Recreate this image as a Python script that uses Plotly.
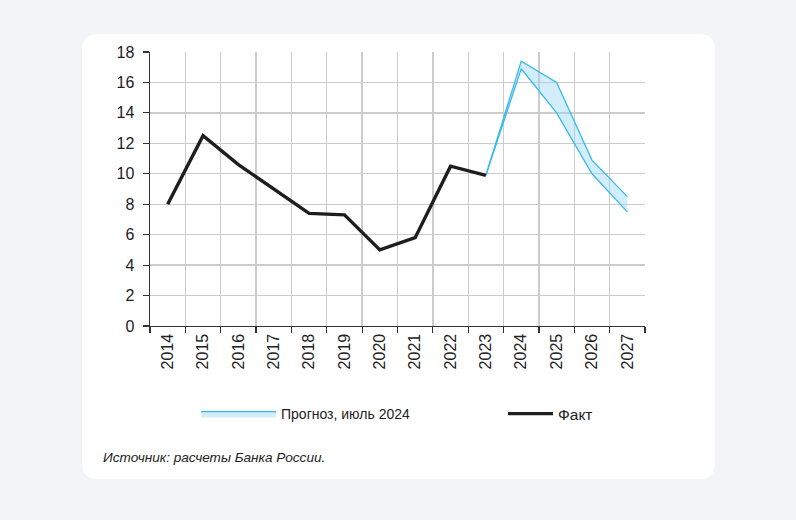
import plotly.graph_objects as go

years = ["2014", "2015", "2016", "2017", "2018", "2019", "2020",
         "2021", "2022", "2023", "2024", "2025", "2026", "2027"]
fact_years = years[:10]
fact_values = [8.0, 12.5, 10.6, 9.0, 7.4, 7.3, 5.0, 5.8, 10.5, 9.9]
fc_years = ["2023", "2024", "2025", "2026", "2027"]
fc_lower = [9.9, 16.9, 14.0, 10.0, 7.5]
fc_upper = [9.9, 17.4, 16.0, 10.9, 8.5]
y_ticks = [0, 2, 4, 6, 8, 10, 12, 14, 16, 18]

W, H = 796, 520
L, R, T, B = 150, 151, 52, 194
pw, ph = W - L - R, H - T - B
BG = "#f3f4f7"


def px(x):
    return (x - L) / pw


def py(y):
    return (H - B - y) / ph


FONT = "Liberation Sans, Arial, sans-serif"
CYAN = "#38bbea"
FILL = "rgba(150,212,242,0.42)"

fig = go.Figure()
fig.add_trace(go.Scatter(x=fc_years, y=fc_lower, mode="lines",
                         line=dict(color=CYAN, width=1.3),
                         showlegend=False, hoverinfo="skip"))
fig.add_trace(go.Scatter(x=fc_years, y=fc_upper, mode="lines", fill="tonexty",
                         fillcolor=FILL, line=dict(color=CYAN, width=1.3),
                         name="Прогноз, июль 2024", legend="legend"))
fig.add_trace(go.Scatter(x=fact_years, y=fact_values, mode="lines",
                         line=dict(color="#1e1e1e", width=3.4),
                         name="Факт", legend="legend2"))

# white card
x0, x1, y0, y1, r = 82, 715, 34, 479, 16
rx, ry = r / pw, r / ph
path = (f"M {px(x0)+rx},{py(y0)} L {px(x1)-rx},{py(y0)} "
        f"Q {px(x1)},{py(y0)} {px(x1)},{py(y0)-ry} "
        f"L {px(x1)},{py(y1)+ry} Q {px(x1)},{py(y1)} {px(x1)-rx},{py(y1)} "
        f"L {px(x0)+rx},{py(y1)} Q {px(x0)},{py(y1)} {px(x0)},{py(y1)+ry} "
        f"L {px(x0)},{py(y0)-ry} Q {px(x0)},{py(y0)} {px(x0)+rx},{py(y0)} Z")
fig.add_shape(type="path", path=path, xref="paper", yref="paper",
              fillcolor="white", line=dict(width=0), layer="below")

fig.add_annotation(text="<i>Источник: расчеты Банка России.</i>",
                   xref="paper", yref="paper", x=px(101), y=py(457),
                   xanchor="left", yanchor="middle", showarrow=False,
                   font=dict(family=FONT, size=13.6, color="#222222"))

fig.update_layout(
    width=W, height=H,
    margin=dict(l=L, r=R, t=T, b=B),
    paper_bgcolor=BG,
    plot_bgcolor="white",
    hovermode=False,
    font=dict(family=FONT, color="#222222"),
    legend=dict(orientation="h", x=px(196), y=py(414), xanchor="left",
                yanchor="middle", itemwidth=75, bgcolor="rgba(0,0,0,0)",
                font=dict(family=FONT, size=14, color="#222222")),
    legend2=dict(orientation="h", x=px(503), y=py(414), xanchor="left",
                 yanchor="middle", itemwidth=45, bgcolor="rgba(0,0,0,0)",
                 font=dict(family=FONT, size=15.5, color="#222222")),
)
fig.update_xaxes(type="category", categoryorder="array", categoryarray=years,
                 range=[-0.5, 13.5], tickson="boundaries",
                 showgrid=True, gridcolor="#cccccc", gridwidth=1.4,
                 showline=True, linecolor="#333333", linewidth=1.4,
                 ticks="outside", ticklen=6, tickcolor="#333333", tickwidth=1.2,
                 tickangle=-90, tickfont=dict(size=16, color="#222222"),
                 fixedrange=True)
fig.update_yaxes(range=[0, 18], tickvals=y_ticks,
                 showgrid=True, gridcolor="#cccccc", gridwidth=1.4,
                 zeroline=False,
                 showline=True, linecolor="#333333", linewidth=1.4,
                 ticks="outside", ticklen=6, tickcolor="#333333", tickwidth=1.2,
                 ticklabelstandoff=5,
                 tickfont=dict(size=16, color="#222222"), fixedrange=True)

fig.write_html(
    "out.html",
    config={"displayModeBar": False, "staticPlot": True},
    post_script=("document.body.style.margin='0';"
                 f"document.body.style.background='{BG}';"
                 "document.body.style.overflow='hidden';"),
)
